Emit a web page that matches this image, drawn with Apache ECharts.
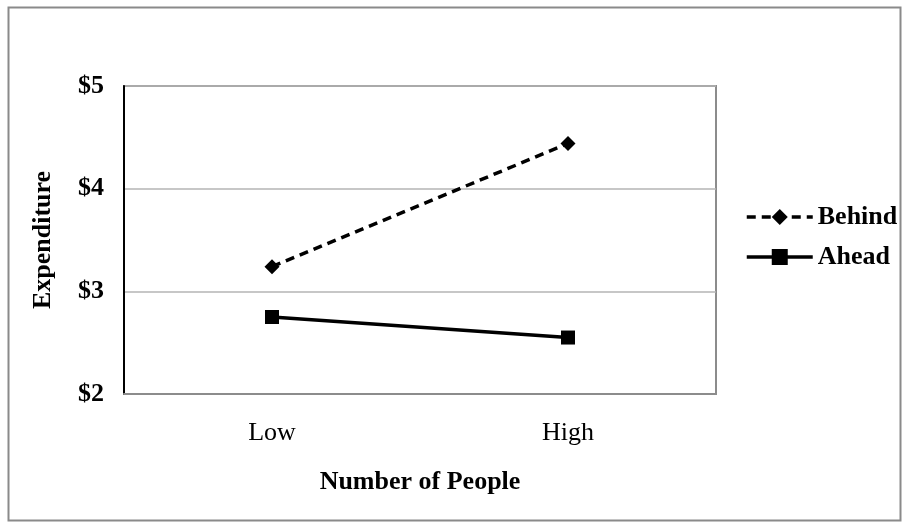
<!DOCTYPE html>
<html>
<head>
<meta charset="utf-8">
<script src="https://cdn.jsdelivr.net/npm/echarts@6/dist/echarts.min.js"></script>
<style>
  html, body { margin: 0; padding: 0; background: #fff; }
  #chart { width: 908px; height: 528px; }
</style>
</head>
<body>
<div id="chart"></div>
<script>
// Expenditure by number of people, for the Behind and Ahead conditions
const categories = ['Low', 'High'];
const behindValues = [3.24, 4.44];
const aheadValues = [2.75, 2.55];
const yTicks = [2, 3, 4, 5];

const serif = '"Liberation Serif", "Times New Roman", serif';
const fontSize = 26;

const chart = echarts.init(document.getElementById('chart'));
chart.setOption({
  animation: false,
  backgroundColor: '#fff',
  graphic: [{
    type: 'rect',
    shape: { x: 8.5, y: 7.5, width: 892, height: 513 },
    style: { fill: 'none', stroke: '#8a8a8a', lineWidth: 2 },
    z: -1
  }],
  grid: {
    left: 124, top: 86, right: 192, bottom: 134,
    show: true, borderColor: '#8c8c8c', borderWidth: 2, backgroundColor: '#fff'
  },
  legend: {
    orient: 'vertical',
    left: 740, top: 199,
    itemWidth: 66, itemHeight: 20, itemGap: 14,
    lineStyle: { width: 3.5 },
    textStyle: { fontFamily: serif, fontSize: fontSize, fontWeight: 'bold', color: '#000' },
    data: ['Behind', 'Ahead']
  },
  xAxis: {
    type: 'category',
    data: categories,
    boundaryGap: true,
    name: 'Number of People',
    nameLocation: 'middle',
    nameGap: 75,
    nameTextStyle: { fontFamily: serif, fontSize: fontSize, fontWeight: 'bold', color: '#000' },
    axisLine: { lineStyle: { color: '#8c8c8c', width: 2 } },
    axisTick: { show: false },
    axisLabel: { fontFamily: serif, fontSize: fontSize, color: '#000', margin: 26 }
  },
  yAxis: {
    type: 'value',
    min: yTicks[0], max: yTicks[yTicks.length - 1], interval: 1,
    name: 'Expenditure',
    nameLocation: 'middle',
    nameGap: 68,
    nameRotate: 90,
    nameTextStyle: { fontFamily: serif, fontSize: fontSize, fontWeight: 'bold', color: '#000' },
    axisLine: { show: true, lineStyle: { color: '#000', width: 2 } },
    axisTick: { show: false },
    axisLabel: {
      fontFamily: serif, fontSize: fontSize, fontWeight: 'bold', color: '#000', margin: 20,
      formatter: v => '$' + v
    },
    splitLine: { lineStyle: { color: '#b5b5b5', width: 1.5 } }
  },
  series: [
    {
      name: 'Behind',
      type: 'line',
      data: behindValues,
      symbol: 'diamond',
      symbolSize: 15,
      itemStyle: { color: '#000' },
      lineStyle: { color: '#000', width: 3.5, type: [9, 6] }
    },
    {
      name: 'Ahead',
      type: 'line',
      data: aheadValues,
      symbol: 'rect',
      symbolSize: 14,
      itemStyle: { color: '#000' },
      lineStyle: { color: '#000', width: 3.5 }
    }
  ]
});
</script>
</body>
</html>
